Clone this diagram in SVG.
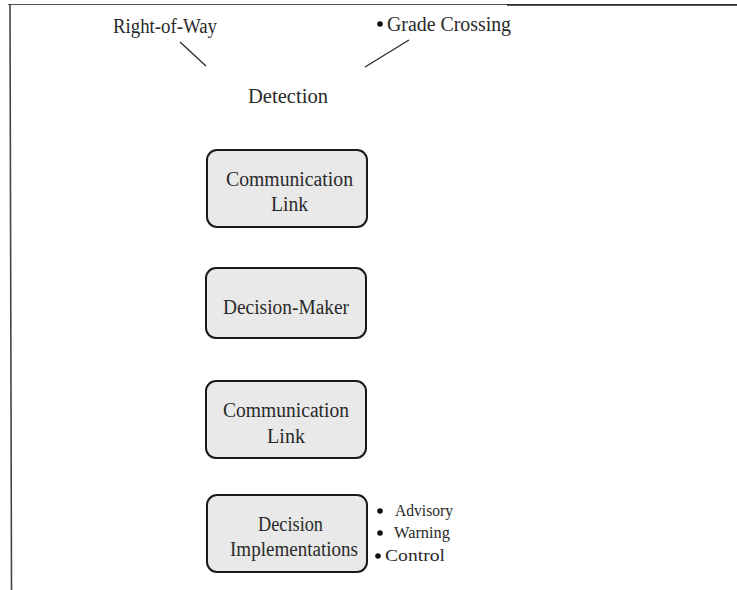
<svg xmlns="http://www.w3.org/2000/svg" width="737" height="590" viewBox="0 0 737 590">
<style>
.box{fill:#e9e9e9;stroke:#1a1a1a;stroke-width:2}
.t{font-family:"Liberation Serif","Times New Roman",serif;font-size:20px;fill:#2a2a2a;text-anchor:start}
.s{font-size:17px}
.conn{stroke:#2a2a2a;stroke-width:1.3;fill:none}
.dot{fill:#111}
</style>
<rect width="737" height="590" fill="#ffffff"/>
<g id="frame">
<line x1="8" y1="4.5" x2="737" y2="4.5" stroke="#555" stroke-width="1.2"/>
<line x1="507" y1="5" x2="737" y2="5" stroke="#222" stroke-width="1.6"/>
<line x1="10" y1="4" x2="11.5" y2="590" stroke="#444" stroke-width="1.6"/>
</g>
<g id="connectors">
<line class="conn" x1="180" y1="42" x2="206" y2="66"/>
<line class="conn" x1="409" y1="40" x2="365" y2="67"/>
</g>
<g id="right-of-way">
<text class="t" x="113" y="33" textLength="104" lengthAdjust="spacingAndGlyphs">Right-of-Way</text>
</g>
<g id="grade-crossing">
<circle class="dot" cx="380" cy="24" r="2.8"/>
<text class="t" x="387" y="31" textLength="124" lengthAdjust="spacingAndGlyphs">Grade Crossing</text>
</g>
<g id="detection">
<text class="t" x="248" y="103" textLength="80" lengthAdjust="spacingAndGlyphs">Detection</text>
</g>
<g id="communication-link-1">
<rect class="box" x="207" y="150" width="160" height="77" rx="10"/>
<text class="t" x="226" y="186" textLength="127" lengthAdjust="spacingAndGlyphs">Communication</text>
<text class="t" x="271" y="211" textLength="37" lengthAdjust="spacingAndGlyphs">Link</text>
</g>
<g id="decision-maker">
<rect class="box" x="206" y="268" width="160" height="70" rx="10"/>
<text class="t" x="223" y="314" textLength="126" lengthAdjust="spacingAndGlyphs">Decision-Maker</text>
</g>
<g id="communication-link-2">
<rect class="box" x="206" y="381" width="160" height="77" rx="10"/>
<text class="t" x="223" y="417" textLength="126" lengthAdjust="spacingAndGlyphs">Communication</text>
<text class="t" x="267" y="443" textLength="38" lengthAdjust="spacingAndGlyphs">Link</text>
</g>
<g id="decision-implementations">
<rect class="box" x="207" y="495" width="160" height="77" rx="10"/>
<text class="t" x="258" y="531" textLength="65" lengthAdjust="spacingAndGlyphs">Decision</text>
<text class="t" x="230" y="556" textLength="128" lengthAdjust="spacingAndGlyphs">Implementations</text>
</g>
<g id="outputs">
<circle class="dot" cx="380" cy="511" r="2.8"/>
<text class="t s" x="395" y="516" textLength="58" lengthAdjust="spacingAndGlyphs">Advisory</text>
<circle class="dot" cx="380" cy="533" r="2.8"/>
<text class="t s" x="394" y="538" textLength="56" lengthAdjust="spacingAndGlyphs">Warning</text>
<circle class="dot" cx="378" cy="556" r="2.8"/>
<text class="t s" x="385" y="561" textLength="60" lengthAdjust="spacingAndGlyphs">Control</text>
</g>
</svg>
